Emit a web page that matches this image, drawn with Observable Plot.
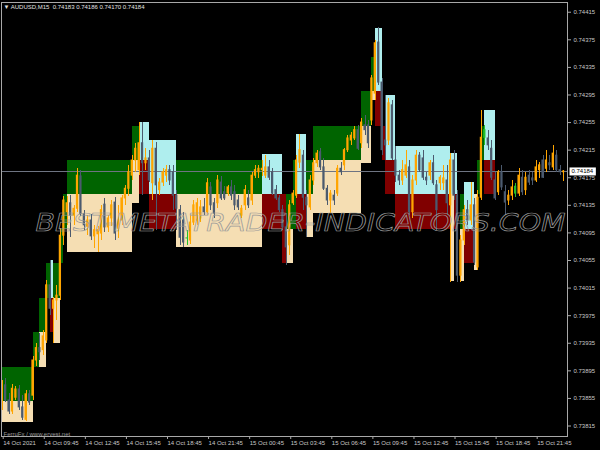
<!DOCTYPE html>
<html><head><meta charset="utf-8">
<script src="https://cdn.jsdelivr.net/npm/d3@7"></script>
<script src="https://cdn.jsdelivr.net/npm/@observablehq/plot@0.6"></script>
<style>html,body{margin:0;padding:0;background:#000;overflow:hidden}</style>
</head><body><div id="chart"></div>
<script>
// ---- candle data (AUDUSD M15), bar index 0..164 ----
const open = [
0.73845,0.73874,0.73852,0.73836,0.73856,0.73868,0.73842,0.73824,0.73861,0.73859,
0.73910,0.73928,0.73925,0.73939,0.74019,0.73985,0.73997,0.74004,0.74091,0.74125,
0.74138,0.74120,0.74130,0.74177,0.74122,0.74104,0.74113,0.74090,0.74093,0.74094,
0.74136,0.74103,0.74116,0.74139,0.74101,0.74113,0.74145,0.74159,0.74178,0.74200,
0.74186,0.74225,0.74196,0.74203,0.74167,0.74217,0.74157,0.74168,0.74178,0.74186,
0.74183,0.74149,0.74128,0.74113,0.74087,0.74084,0.74110,0.74113,0.74116,0.74132,
0.74125,0.74161,0.74138,0.74138,0.74168,0.74154,0.74152,0.74161,0.74154,0.74142,
0.74120,0.74135,0.74145,0.74142,0.74178,0.74183,0.74186,0.74178,0.74190,0.74183,
0.74157,0.74145,0.74128,0.74103,0.74077,0.74138,0.74149,0.74197,0.74207,0.74146,
0.74132,0.74171,0.74196,0.74212,0.74190,0.74159,0.74142,0.74149,0.74152,0.74188,
0.74193,0.74215,0.74229,0.74232,0.74244,0.74225,0.74251,0.74251,0.74258,0.74297,
0.74371,0.74313,0.74229,0.74229,0.74280,0.74200,0.74178,0.74171,0.74178,0.74190,
0.74125,0.74171,0.74207,0.74203,0.74175,0.74178,0.74196,0.74164,0.74167,0.74167,
0.74171,0.74135,0.74200,0.74149,0.74033,0.74084,0.74128,0.74113,0.74135,0.74045,
0.74146,0.74233,0.74232,0.74217,0.74171,0.74154,0.74183,0.74154,0.74142,0.74149,
0.74152,0.74152,0.74175,0.74157,0.74178,0.74174,0.74171,0.74186,0.74200,0.74188,
0.74196,0.74190,0.74207,0.74186,0.74183];
const high = [
0.73881,0.73884,0.73862,0.73875,0.73872,0.73874,0.73859,0.73867,0.73867,0.73916,
0.73935,0.73949,0.73954,0.74026,0.74055,0.74001,0.74019,0.74101,0.74148,0.74148,
0.74149,0.74135,0.74188,0.74186,0.74128,0.74120,0.74122,0.74106,0.74104,0.74135,
0.74145,0.74120,0.74142,0.74146,0.74135,0.74149,0.74164,0.74193,0.74207,0.74225,
0.74255,0.74255,0.74217,0.74215,0.74229,0.74226,0.74174,0.74188,0.74193,0.74193,
0.74193,0.74157,0.74135,0.74125,0.74099,0.74120,0.74142,0.74145,0.74142,0.74145,
0.74174,0.74168,0.74145,0.74178,0.74177,0.74162,0.74164,0.74171,0.74164,0.74149,
0.74135,0.74164,0.74157,0.74183,0.74193,0.74193,0.74200,0.74207,0.74200,0.74188,
0.74164,0.74149,0.74135,0.74123,0.74142,0.74157,0.74207,0.74238,0.74215,0.74157,
0.74178,0.74203,0.74215,0.74217,0.74203,0.74164,0.74157,0.74157,0.74193,0.74197,
0.74217,0.74236,0.74241,0.74249,0.74251,0.74261,0.74265,0.74258,0.74323,0.74374,
0.74393,0.74319,0.74294,0.74290,0.74287,0.74220,0.74186,0.74200,0.74215,0.74200,
0.74178,0.74215,0.74212,0.74215,0.74183,0.74200,0.74207,0.74171,0.74178,0.74193,
0.74193,0.74210,0.74215,0.74157,0.74091,0.74135,0.74142,0.74168,0.74145,0.74157,
0.74273,0.74251,0.74244,0.74229,0.74183,0.74186,0.74193,0.74164,0.74157,0.74171,
0.74167,0.74188,0.74186,0.74183,0.74186,0.74183,0.74200,0.74197,0.74207,0.74215,
0.74207,0.74222,0.74215,0.74193,0.74186];
const low = [
0.73838,0.73849,0.73832,0.73832,0.73852,0.73838,0.73823,0.73821,0.73845,0.73852,
0.73901,0.73910,0.73917,0.73935,0.73975,0.73935,0.73968,0.73997,0.74077,0.74106,
0.74088,0.74106,0.74125,0.74119,0.74099,0.74091,0.74084,0.74072,0.74067,0.74084,
0.74096,0.74096,0.74104,0.74084,0.74087,0.74106,0.74135,0.74148,0.74171,0.74183,
0.74178,0.74149,0.74186,0.74168,0.74142,0.74099,0.74149,0.74162,0.74168,0.74164,
0.74128,0.74099,0.74077,0.74074,0.74077,0.74078,0.74106,0.74106,0.74110,0.74120,
0.74120,0.74128,0.74116,0.74130,0.74142,0.74142,0.74148,0.74142,0.74128,0.74128,
0.74116,0.74128,0.74130,0.74135,0.74174,0.74174,0.74177,0.74174,0.74171,0.74149,
0.74142,0.74125,0.74099,0.74048,0.74062,0.74135,0.74145,0.74188,0.74128,0.74088,
0.74128,0.74164,0.74190,0.74186,0.74157,0.74135,0.74123,0.74135,0.74148,0.74178,
0.74186,0.74212,0.74222,0.74229,0.74215,0.74217,0.74236,0.74217,0.74251,0.74287,
0.74309,0.74207,0.74200,0.74222,0.74200,0.74168,0.74164,0.74164,0.74174,0.74120,
0.74116,0.74164,0.74183,0.74171,0.74164,0.74171,0.74164,0.74099,0.74157,0.74157,
0.74120,0.74023,0.74142,0.74023,0.74023,0.74077,0.74106,0.74106,0.74048,0.74041,
0.74142,0.74222,0.74215,0.74171,0.74142,0.74149,0.74157,0.74120,0.74135,0.74142,
0.74146,0.74148,0.74149,0.74149,0.74164,0.74164,0.74168,0.74174,0.74174,0.74183,
0.74186,0.74186,0.74183,0.74178,0.74170];
const close = [
0.73874,0.73852,0.73836,0.73869,0.73868,0.73842,0.73827,0.73861,0.73849,0.73910,
0.73928,0.73922,0.73945,0.74019,0.73985,0.73997,0.74004,0.74091,0.74142,0.74138,
0.74120,0.74130,0.74178,0.74122,0.74106,0.74113,0.74090,0.74099,0.74099,0.74128,
0.74103,0.74116,0.74135,0.74094,0.74113,0.74145,0.74159,0.74183,0.74200,0.74217,
0.74225,0.74196,0.74203,0.74171,0.74217,0.74164,0.74168,0.74183,0.74186,0.74171,
0.74149,0.74130,0.74088,0.74081,0.74087,0.74110,0.74135,0.74138,0.74132,0.74125,
0.74167,0.74135,0.74123,0.74171,0.74145,0.74145,0.74161,0.74149,0.74135,0.74132,
0.74130,0.74157,0.74135,0.74178,0.74186,0.74188,0.74188,0.74190,0.74175,0.74152,
0.74145,0.74128,0.74103,0.74074,0.74135,0.74152,0.74200,0.74215,0.74146,0.74135,
0.74171,0.74196,0.74210,0.74190,0.74159,0.74142,0.74152,0.74142,0.74188,0.74183,
0.74215,0.74232,0.74236,0.74244,0.74217,0.74255,0.74244,0.74225,0.74319,0.74370,
0.74313,0.74215,0.74222,0.74283,0.74203,0.74178,0.74171,0.74186,0.74193,0.74125,
0.74171,0.74207,0.74186,0.74175,0.74171,0.74196,0.74167,0.74128,0.74175,0.74174,
0.74138,0.74200,0.74149,0.74033,0.74084,0.74128,0.74113,0.74135,0.74052,0.74146,
0.74233,0.74244,0.74222,0.74175,0.74145,0.74183,0.74161,0.74139,0.74149,0.74161,
0.74162,0.74178,0.74154,0.74175,0.74168,0.74171,0.74190,0.74193,0.74175,0.74200,
0.74193,0.74210,0.74186,0.74183,0.74184];
const greenBars = [54, 141, 150];

// ---- indicator boxes: kind, start bar, end bar, low price, high price ----
const boxKind  = ["G","W","G","W","G","G","C","R","W","G","G","G","W","G","W","C","R","C","R","G","W","C","R","R","G","W","G","C","R","G","W","G","W","G","W","G","W","C","R","R","C","R","C","R","C","R","W","G","W","C","R","W","G","G","C","R"];
const boxStart = [-1,-1,9,11,11,13,14,14,15,17,18,19,19,38,38,40,40,43,43,51,51,76,76,82,83,83,85,86,86,89,89,91,91,105,105,108,108,109,109,111,112,112,115,115,131,131,131,134,134,135,135,138,139,140,141,141];
const boxEnd   = [9,9,11,13,13,17,15,15,17,18,19,38,38,40,40,43,43,51,51,76,76,82,82,83,85,85,86,89,89,91,91,105,105,108,108,109,109,111,111,112,115,115,131,131,133,133,132,135,135,138,138,139,140,141,144,144];
const boxLow   = [0.7385,0.7382,0.7390,0.7390,0.7395,0.7400,0.7400,0.7395,0.73935,0.7405,0.7410,0.7415,0.74066,0.7420,0.74138,0.7420,0.7415,0.7415,0.7410,0.7415,0.74074,0.7415,0.7410,0.7405,0.7410,0.7405,0.7410,0.7415,0.7410,0.7415,0.74089,0.7420,0.74123,0.7425,0.74196,0.7430,0.74287,0.7430,0.7425,0.7420,0.7420,0.7415,0.7415,0.7410,0.7415,0.7410,0.74024,0.7410,0.74024,0.7410,0.7405,0.74041,0.7415,0.7420,0.7420,0.7415];
const boxHigh  = [0.7390,0.7385,0.7395,0.7395,0.7400,0.7405,0.74055,0.7400,0.7400,0.7410,0.7415,0.7420,0.7415,0.7425,0.7420,0.74255,0.7420,0.74229,0.7415,0.7420,0.7415,0.74209,0.7415,0.7415,0.7415,0.7410,0.7420,0.74238,0.7415,0.7420,0.7415,0.7425,0.7420,0.7430,0.7425,0.7435,0.7430,0.74392,0.7430,0.7425,0.74294,0.7420,0.7422,0.7415,0.7421,0.7415,0.7415,0.7415,0.7410,0.74168,0.7410,0.7415,0.7420,0.7425,0.74273,0.7420];

// ---- axes and texts ----
const yTicks = [0.73815,0.73855,0.73895,0.73935,0.73975,0.74015,0.74055,0.74095,0.74135,0.74175,0.74215,0.74255,0.74295,0.74335,0.74375,0.74415];
const xTickBars = [0,12,24,36,48,60,72,84,96,108,120,132,144,156];
const xTickLabels = ["14 Oct 2021","14 Oct 09:45","14 Oct 12:45","14 Oct 15:45","14 Oct 18:45","14 Oct 21:45","15 Oct 00:45","15 Oct 03:45","15 Oct 06:45","15 Oct 09:45","15 Oct 12:45","15 Oct 15:45","15 Oct 18:45","15 Oct 21:45"];
const symbolName = "AUDUSD,M15";
const lastOHLC = [0.74183, 0.74186, 0.74170, 0.74184];
const credit = "FerruFx / www.ervest.net";
const watermark = "BEST-METATRADER-INDICATORS.COM";

const palette = {G:"#006400", C:"#afeeee", W:"#f5deb3", R:"#800000"};
const bullColor = "#ffa500", bearColor = "#4b5a6e", flatColor = "#22c02a";

const bars = open.map((o, i) => ({
  i, o, h: high[i], l: low[i], c: close[i],
  col: greenBars.includes(i) ? flatColor : (close[i] >= o ? bullColor : bearColor)
}));
const boxes = boxKind.map((k, j) => ({k, s: boxStart[j], e: boxEnd[j], lo: boxLow[j], hi: boxHigh[j], col: palette[k]}));
const fmt = d3.format(".5f");
const titleText = "\u25BC " + symbolName + "\u00a0\u00a0" + lastOHLC.map(fmt).join(" ");
const tagText = fmt(lastOHLC[3]);

const chart = Plot.plot({
  width: 600, height: 450,
  marginTop: 2, marginRight: 33, marginBottom: 14, marginLeft: 1,
  style: {background: "#000", color: "#c8c8c8", fontFamily: "Liberation Sans, Arial, sans-serif", fontSize: "6px"},
  color: {type: "identity"},
  x: {domain: [-0.2045, 165.15], axis: null},
  y: {domain: [0.737998, 0.744291], axis: null},
  marks: [
    Plot.rect(boxes, {x1: "s", x2: "e", y1: "lo", y2: "hi", fill: "col", clip: true, shapeRendering: "crispEdges"}),
    Plot.ruleY([lastOHLC[3]], {stroke: "#6e7482", strokeWidth: 1, shapeRendering: "crispEdges"}),
    Plot.ruleX(bars, {x: "i", y1: "l", y2: "h", stroke: "col", strokeWidth: 1, clip: true, shapeRendering: "crispEdges"}),
    Plot.rect(bars, {x1: d => d.i - 0.33, x2: d => d.i + 0.33, y1: "o", y2: "c", fill: "col", insetTop: -0.5, insetBottom: -0.5, clip: true}),
    Plot.text([watermark], {frameAnchor: "middle", dx: 16, dy: 4, fontSize: 24, fontStyle: "italic", fill: "none", stroke: "#9a9a9a", strokeWidth: 0.7, fontFamily: "DejaVu Sans"}),
    Plot.frame({stroke: "#a8a8a8"}),
    Plot.axisY({anchor: "right", ticks: yTicks, tickFormat: fmt, tickSize: 3, tickPadding: 3, stroke: "#a8a8a8", fill: "#c8c8c8", fontSize: 6}),
    Plot.axisX({anchor: "bottom", ticks: xTickBars, tickFormat: d => xTickLabels[xTickBars.indexOf(d)], textAnchor: "start", dx: 1, tickSize: 3, tickPadding: 1, stroke: "#a8a8a8", fill: "#c8c8c8", fontSize: 6}),
    Plot.text([titleText], {frameAnchor: "top-left", dx: 2, dy: 2, lineAnchor: "top", textAnchor: "start", fill: "#e0e0e0", fontSize: 6}),
    Plot.text([credit], {frameAnchor: "bottom-left", dx: 2, dy: -1, lineAnchor: "bottom", textAnchor: "start", fill: "#9a9a9a", fontSize: 6}),
    Plot.text([lastOHLC[3]], {y: d => d, frameAnchor: "right", dx: 4, textAnchor: "start", text: () => tagText, fill: "#000", fontSize: 6})
  ]
});
document.getElementById("chart").append(chart);

const texts = d3.select(chart).selectAll("text");
// watermark stretched to its width
texts.filter(function() { return this.textContent === watermark; })
  .attr("textLength", 530).attr("lengthAdjust", "spacingAndGlyphs")
  .style("paint-order", "normal");
// white tag behind the last price
texts.filter(function() { return this.textContent === tagText; }).each(function() {
  const bb = this.getBBox();
  d3.select(this.parentNode).insert("rect", () => this)
    .attr("x", bb.x - 2).attr("y", bb.y - 1).attr("width", bb.width + 4).attr("height", bb.height + 2)
    .attr("fill", "#fff").attr("transform", this.getAttribute("transform"));
});
</script>
</body></html>
